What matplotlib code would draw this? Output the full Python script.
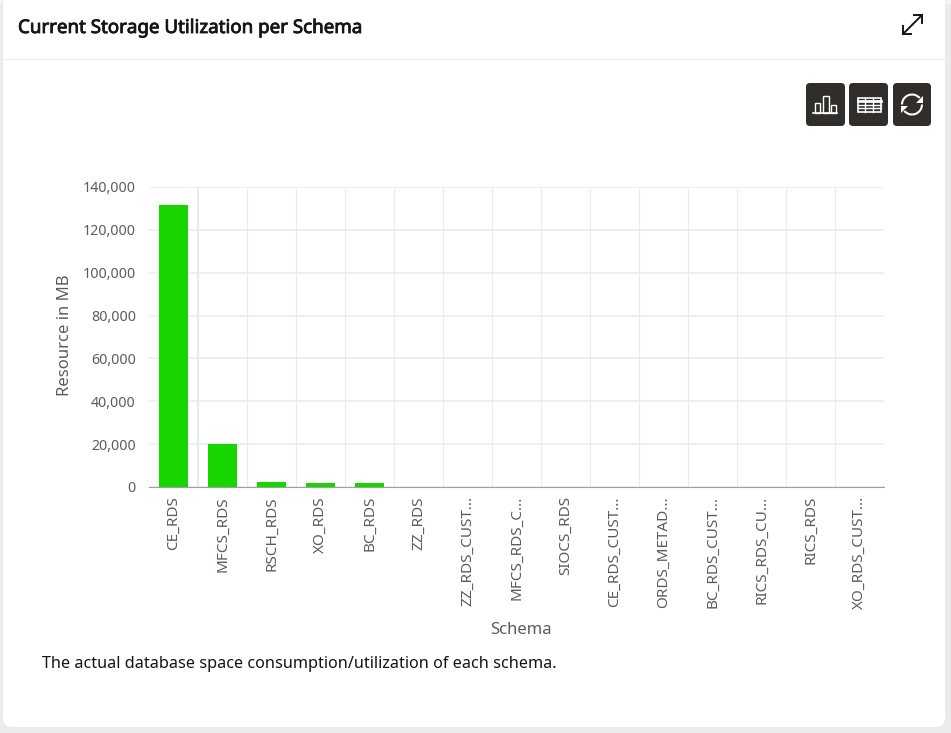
import matplotlib
matplotlib.use('Agg')
import matplotlib.pyplot as plt
import matplotlib.patheffects as pe
from matplotlib.patches import FancyBboxPatch, Rectangle, Arc, Polygon
from matplotlib.ticker import FuncFormatter

# values
schemas = ['CE_RDS', 'MFCS_RDS', 'RSCH_RDS', 'XO_RDS', 'BC_RDS', 'ZZ_RDS', 'ZZ_RDS_CUST...', 'MFCS_RDS_C...',
           'SIOCS_RDS', 'CE_RDS_CUST...', 'ORDS_METAD...', 'BC_RDS_CUST...', 'RICS_RDS_CU...', 'RICS_RDS', 'XO_RDS_CUST...']
usage_mb = [131600, 20000, 2400, 2000, 1700, 150, 100, 80, 60, 50, 40, 30, 20, 15, 10]
y_ticks = [0, 20000, 40000, 60000, 80000, 100000, 120000, 140000]

title = 'Current Storage Utilization per Schema'
caption = 'The actual database space consumption/utilization of each schema.'

plt.rcParams['font.family'] = ['Noto Sans', 'DejaVu Sans']

W, H = 951, 733
fig = plt.figure(figsize=(W / 100, H / 100), dpi=100, facecolor='#ebebeb')

# page layer in pixel coordinates
bg = fig.add_axes([0, 0, 1, 1], zorder=0)
bg.set_xlim(0, W)
bg.set_ylim(H, 0)
bg.axis('off')
bg.add_patch(Rectangle((0, 0), W, 4, fc='#f4f4f4', ec='none'))
bg.add_patch(FancyBboxPatch((9, 2), 930, 719, boxstyle='round,pad=6,rounding_size=9',
                            fc='white', ec='none'))
bg.plot([3, 945], [58.5, 58.5], color='#ececec', lw=1)
# the installed Noto Sans has no bold face, so thicken the title with a stroke
bg.text(18, 28, title, fontsize=13.5, color='#161513', va='center', ha='left',
        path_effects=[pe.withStroke(linewidth=0.6, foreground='#161513')])
bg.text(42, 663.5, caption, fontsize=11.7, color='#161513', va='center', ha='left')

# expand icon
bg.plot([913, 922], [24, 15], color='#161513', lw=1.4)
bg.plot([912, 903], [25, 34], color='#161513', lw=1.4)
bg.plot([914, 922, 922], [15, 15, 23], color='#161513', lw=1.4)
bg.plot([903, 903, 911], [26, 34, 34], color='#161513', lw=1.4)

# toolbar buttons
for x, w in [(806, 39), (849, 39), (893, 38)]:
    bg.add_patch(FancyBboxPatch((x + 4, 87), w - 8, 35, boxstyle='round,pad=4,rounding_size=4',
                                fc='#312d2a', ec='none'))
# bar chart icon
for x, w, top in [(815, 5, 103), (822.5, 6, 96), (831, 5, 105)]:
    bg.add_patch(Rectangle((x, top), w, 113 - top, fc='none', ec='white', lw=1))
bg.plot([813, 837], [113, 113], color='white', lw=1.2)
# table icon
bg.add_patch(Rectangle((857.5, 98), 23, 14, fc='none', ec='white', lw=1.2))
bg.plot([857.5, 880.5], [101, 101], color='white', lw=2)
for yy in [104.5, 108]:
    bg.plot([857.5, 880.5], [yy, yy], color='white', lw=1)
for xx in [865, 873]:
    bg.plot([xx, xx], [98, 112], color='white', lw=1)
# refresh icon
bg.add_patch(Arc((912, 104.5), 20, 20, theta1=180, theta2=320, ec='white', lw=1.5))
bg.add_patch(Arc((912, 104.5), 20, 20, theta1=0, theta2=140, ec='white', lw=1.5))
bg.add_patch(Polygon([(923, 96), (923, 103), (916, 103)], fc='white', ec='none'))
bg.add_patch(Polygon([(901, 113), (901, 106), (908, 106)], fc='white', ec='none'))

# chart
left, right, top, bottom = 149, 884, 187, 487
ax = fig.add_axes([left / W, 1 - bottom / H, (right - left) / W, (bottom - top) / H], zorder=1)
ax.patch.set_alpha(0)
xs = list(range(len(schemas)))
ax.bar(xs, usage_mb, width=0.59, color='#18d500', zorder=3)
ax.set_xlim(-0.5, len(schemas) - 0.5)
ax.set_ylim(0, 140000)
ax.set_yticks(y_ticks)
ax.yaxis.set_major_formatter(FuncFormatter(lambda v, p: f'{int(v):,}'))
ax.set_xticks(xs)
ax.set_xticklabels(schemas, rotation=90, va='top', ha='center')
ax.set_xticks([i + 0.5 for i in xs[:-1]], minor=True)
ax.grid(axis='y', which='major', color='#e8ebef', lw=1.1, zorder=0)
ax.grid(axis='x', which='minor', color='#e8ebef', lw=0.8, zorder=0)
ax.xaxis.get_minor_ticks()[0].gridline.set_linewidth(1.5)
ax.tick_params(axis='both', which='both', length=0)
ax.tick_params(axis='y', labelsize=10.2, labelcolor='#5f5b58', pad=9.5)
ax.tick_params(axis='x', labelsize=11, labelcolor='#5f5b58', pad=6.5)
for s in ['top', 'right', 'left']:
    ax.spines[s].set_visible(False)
ax.spines['bottom'].set_color('#9e9e9e')
ax.set_axisbelow(True)
fig.text(65 / W, 1 - 335.5 / H, 'Resource in MB', rotation=90, fontsize=12, color='#5f5b58', ha='center', va='center')
fig.text(521 / W, 1 - 630 / H, 'Schema', fontsize=12, color='#5f5b58', ha='center', va='center')

fig.savefig('out.png', dpi=100, facecolor=fig.get_facecolor())
